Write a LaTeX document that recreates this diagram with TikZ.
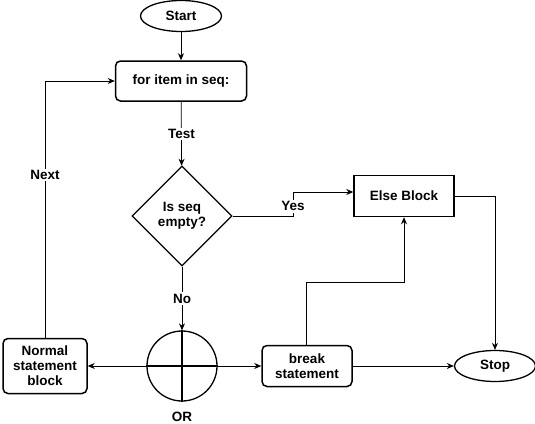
\documentclass[tikz,border=0pt]{standalone}
\usepackage{fontspec}
\setmainfont{Liberation Sans}
\usetikzlibrary{shapes.geometric,arrows.meta}
\begin{document}
\begin{tikzpicture}[x=1pt,y=-1pt,
  every node/.style={font=\fontsize{13.5}{15}\selectfont\bfseries},
  box/.style={draw, line width=1.5pt, rounded corners=5pt, align=center, inner sep=0pt},
  sbox/.style={draw, line width=1.5pt, align=center, inner sep=0pt},
  term/.style={ellipse, draw, line width=1.3pt, inner sep=0pt, minimum width=81pt, minimum height=31pt},
  dia/.style={diamond, draw, line width=1.3pt, inner sep=0pt, minimum width=100pt, minimum height=100pt, align=center},
  arr/.style={-{Stealth[length=7pt,width=6pt]}, line width=0.8pt},
  ln/.style={line width=0.8pt},
  lbl/.style={fill=white, inner sep=1.5pt}]
\useasboundingbox (0,0) rectangle (535,423);
\node[term] (start) at (181,16) {Start};
\node[box, minimum width=131pt, minimum height=40pt] (for) at (181,81) {for item in seq:};
\node[dia] (dia) at (182,216) {Is seq\\empty?};
\node[sbox, minimum width=100pt, minimum height=41pt] (else) at (404,196) {Else Block};
\node[draw, circle, line width=1.3pt, minimum size=70pt, inner sep=0pt] (or) at (182,366) {};
\draw[line width=1.3pt] (or.north) -- (or.south) (or.west) -- (or.east);
\node (orl) at (182,417) {OR};
\node[box, minimum width=84pt, minimum height=55pt] (normal) at (45,366) {Normal\\statement\\block};
\node[box, minimum width=90pt, minimum height=41pt] (brk) at (307,366) {break\\statement};
\node[term] (stop) at (495,366) {Stop};

\draw[arr] (start) -- (for);
\draw[arr] (for) -- node[lbl] {Test} (dia);
\draw[arr] (dia) -- node[lbl] {No} (or);
\coordinate (y1) at (293,216);
\coordinate (y2) at (293,192);
\draw[arr] (dia.east) -- (y1) -- node[lbl, pos=0.4] {Yes} (y2) -- (else.west |- y2);
\draw[arr] (or.west) -- (normal.east);
\draw[arr] (or.east) -- (brk.west);
\draw[arr] (brk.east) -- (stop.west);
\coordinate (n1) at (normal.north |- for.west);
\draw[arr] (normal.north) -- node[lbl, pos=0.634] {Next} (n1) -- (for.west);
\coordinate (b1) at (306,282);
\draw[arr] (brk.north -| b1) -- (b1) -| (else.south);
\draw[arr] (else.east) -| (stop.north);
\end{tikzpicture}
\end{document}
